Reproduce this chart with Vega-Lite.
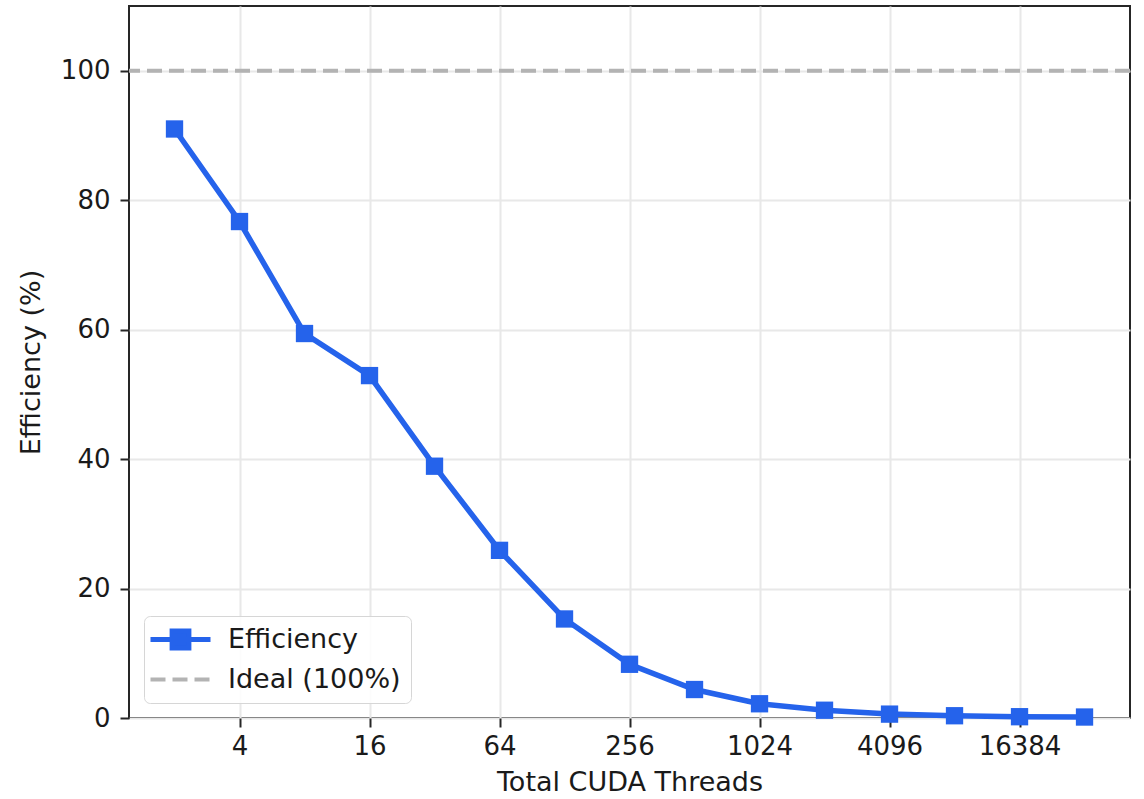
{
  "$schema": "https://vega.github.io/schema/vega-lite/v6.json",
  "width": 1001,
  "height": 712,
  "autosize": {"type": "none"},
  "padding": {"left": 129, "top": 6, "right": 14, "bottom": 81},
  "background": "white",
  "config": {
    "font": "DejaVu Sans",
    "view": {"stroke": "#262626", "strokeWidth": 2},
    "axis": {
      "domain": false,
      "grid": true,
      "gridColor": "#e8e8e8",
      "gridWidth": 2,
      "tickColor": "#262626",
      "tickWidth": 2,
      "tickSize": 9,
      "labelFont": "DejaVu Sans",
      "labelFontSize": 26,
      "labelColor": "#1a1a1a",
      "titleFont": "DejaVu Sans",
      "titleFontSize": 27,
      "titleFontWeight": "normal",
      "titleColor": "#1a1a1a"
    }
  },
  "datasets": {
    "efficiency": [
      {"threads": 2, "efficiency": 91.0, "series": "Efficiency"},
      {"threads": 4, "efficiency": 76.7, "series": "Efficiency"},
      {"threads": 8, "efficiency": 59.4, "series": "Efficiency"},
      {"threads": 16, "efficiency": 52.9, "series": "Efficiency"},
      {"threads": 32, "efficiency": 38.9, "series": "Efficiency"},
      {"threads": 64, "efficiency": 25.9, "series": "Efficiency"},
      {"threads": 128, "efficiency": 15.3, "series": "Efficiency"},
      {"threads": 256, "efficiency": 8.3, "series": "Efficiency"},
      {"threads": 512, "efficiency": 4.4, "series": "Efficiency"},
      {"threads": 1024, "efficiency": 2.2, "series": "Efficiency"},
      {"threads": 2048, "efficiency": 1.2, "series": "Efficiency"},
      {"threads": 4096, "efficiency": 0.6, "series": "Efficiency"},
      {"threads": 8192, "efficiency": 0.35, "series": "Efficiency"},
      {"threads": 16384, "efficiency": 0.2, "series": "Efficiency"},
      {"threads": 32768, "efficiency": 0.15, "series": "Efficiency"}
    ],
    "ideal": [
      {"efficiency": 100, "series": "Ideal (100%)"}
    ]
  },
  "layer": [
    {
      "data": {"name": "ideal"},
      "mark": {"type": "rule", "strokeWidth": 4, "strokeDash": [15, 7]},
      "encoding": {
        "y": {"field": "efficiency", "type": "quantitative"},
        "color": {"field": "series", "type": "nominal"}
      }
    },
    {
      "data": {"name": "efficiency"},
      "mark": {
        "type": "line",
        "strokeWidth": 5.5,
        "point": {"shape": "square", "size": 300, "filled": true, "opacity": 1}
      },
      "encoding": {
        "x": {
          "field": "threads",
          "type": "quantitative",
          "title": "Total CUDA Threads",
          "scale": {"type": "log", "base": 2, "domain": [1.231, 53216], "nice": false},
          "axis": {
            "values": [4, 16, 64, 256, 1024, 4096, 16384],
            "format": "d",
            "labelPadding": 6,
            "titlePadding": 10
          }
        },
        "y": {
          "field": "efficiency",
          "type": "quantitative",
          "title": "Efficiency (%)",
          "scale": {"domain": [0, 110], "nice": false},
          "axis": {
            "values": [0, 20, 40, 60, 80, 100],
            "labelPadding": 10,
            "titlePadding": 15
          }
        },
        "color": {
          "field": "series",
          "type": "nominal",
          "scale": {
            "domain": ["Efficiency", "Ideal (100%)"],
            "range": ["#2563eb", "#b3b3b3"]
          },
          "legend": {
            "title": null,
            "orient": "bottom-left",
            "offset": 15,
            "padding": 10,
            "fillColor": "rgba(255,255,255,0.85)",
            "strokeColor": "#d6d6d6",
            "cornerRadius": 6,
            "labelFont": "DejaVu Sans",
            "labelFontSize": 27,
            "labelColor": "#1a1a1a",
            "labelLimit": 400,
            "labelOffset": 34,
            "symbolOffset": 13,
            "rowPadding": 7,
            "symbolSize": 3600,
            "symbolStrokeWidth": 5,
            "encode": {
              "symbols": {
                "update": {
                  "shape": {"signal": "datum.value === 'Efficiency' ? 'M-1,0H1M-0.28,-0.28H0.28V0.28H-0.28Z' : 'M-1,0H1'"},
                  "fill": {"signal": "datum.value === 'Efficiency' ? '#2563eb' : 'transparent'"},
                  "stroke": {"signal": "datum.value === 'Efficiency' ? '#2563eb' : '#b3b3b3'"},
                  "strokeDash": {"signal": "datum.value === 'Efficiency' ? [1, 0] : [15, 7]"},
                  "strokeWidth": {"signal": "datum.value === 'Efficiency' ? 5 : 4"},
                  "opacity": {"value": 1}
                }
              }
            }
          }
        }
      }
    }
  ]
}
